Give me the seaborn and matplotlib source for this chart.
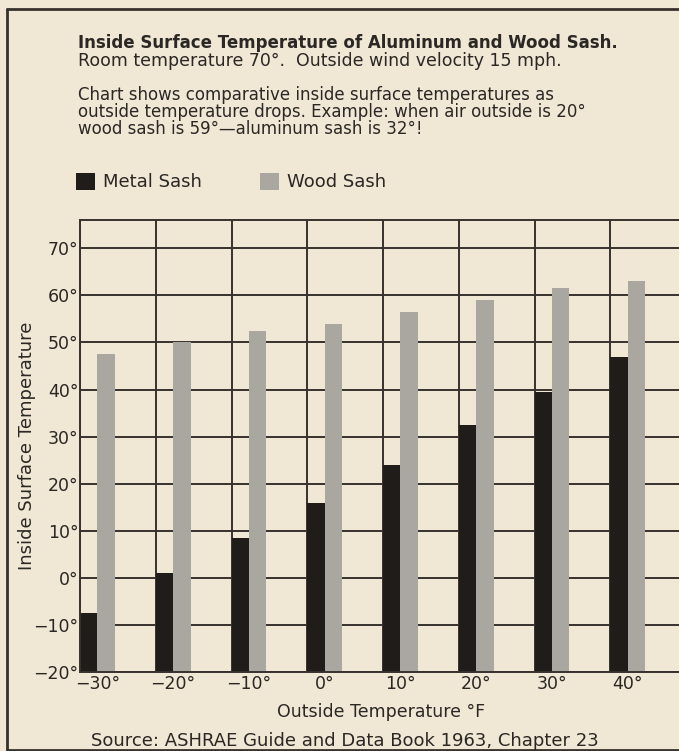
import numpy as np
import pandas as pd
import matplotlib.pyplot as plt
import seaborn as sns
from matplotlib.lines import Line2D

# values (inside surface temperature, °F)
outside_temps = ["−30°", "−20°", "−10°", "0°", "10°", "20°", "30°", "40°"]
metal_sash = [-7.5, 1, 8.5, 16, 24, 32.5, 39.5, 47]
wood_sash = [47.5, 50, 52.5, 54, 56.5, 59, 61.5, 63]
series = ["Metal Sash", "Wood Sash"]
y_ticks = [-20, -10, 0, 10, 20, 30, 40, 50, 60, 70]
y_tick_labels = [f"{v}°".replace("-", "−") for v in y_ticks]

title = "Inside Surface Temperature of Aluminum and Wood Sash."
subtitle = "Room temperature 70°.  Outside wind velocity 15 mph."
notes = [
    "Chart shows comparative inside surface temperatures as",
    "outside temperature drops. Example: when air outside is 20°",
    "wood sash is 59°—aluminum sash is 32°!",
]
source = "Source: ASHRAE Guide and Data Book 1963, Chapter 23"

paper = "#f0e7d4"
ink = "#2a2724"
grid_ink = "#37322e"
metal_color = "#1f1c1a"
wood_color = "#aaa6a0"
bar_width = 0.46

sns.set_style("white", rc={"axes.facecolor": paper, "figure.facecolor": paper})
plt.rcParams["font.family"] = ["DejaVu Sans"]
plt.rcParams["text.color"] = ink
plt.rcParams["axes.labelcolor"] = ink
plt.rcParams["xtick.color"] = ink
plt.rcParams["ytick.color"] = ink

df = pd.DataFrame({
    "outside": outside_temps * 2,
    "temp": metal_sash + wood_sash,
    "sash": [series[0]] * len(metal_sash) + [series[1]] * len(wood_sash),
})

W, H = 679, 751
fig = plt.figure(figsize=(W / 100, H / 100), dpi=100)
ax = fig.add_axes([80 / W, 79 / H, 606 / W, 452 / H])

sns.barplot(data=df, x="outside", y="temp", hue="sash", order=outside_temps,
            hue_order=series, palette=[metal_color, wood_color], width=bar_width,
            saturation=1, errorbar=None, linewidth=0, ax=ax)

# bars in the original rise from the bottom of the scale, not from zero
for bars in ax.containers:
    for bar in bars:
        top = bar.get_y() + bar.get_height()
        bar.set_y(y_ticks[0])
        bar.set_height(top - y_ticks[0])

ax.set_ylim(y_ticks[0], 76)
ax.set_xlim(-bar_width / 2, len(outside_temps) - bar_width / 2)
ax.set_yticks(y_ticks, y_tick_labels)
ax.set_xticks(np.arange(len(outside_temps) + 1) - bar_width / 2, minor=True)

ax.set_axisbelow(True)
ax.yaxis.grid(True, color=grid_ink, lw=1.4)
ax.xaxis.grid(True, which="minor", color=grid_ink, lw=1.4)
ax.xaxis.grid(False, which="major")
ax.tick_params(which="both", length=0)
ax.tick_params(axis="y", labelsize=12.5, pad=1)
ax.tick_params(axis="x", labelsize=12.5, pad=2)
for side in ["left", "top", "bottom"]:
    ax.spines[side].set_color(grid_ink)
    ax.spines[side].set_linewidth(1.4)

ax.set_ylabel("Inside Surface Temperature", fontsize=13)
ax.yaxis.set_label_coords(-0.072, 0.5)
ax.set_xlabel("Outside Temperature °F", fontsize=12.5)
ax.xaxis.set_label_coords(0.497, -0.068)

sns.move_legend(ax, "center left", bbox_to_anchor=(76 / W, 1 - 182 / H),
                bbox_transform=fig.transFigure, ncol=2, title=None, frameon=False,
                fontsize=13, handlelength=1.05, handleheight=1.1, handletextpad=0.45,
                columnspacing=3.2, borderpad=0, borderaxespad=0)

fig.text(78 / W, 1 - 48 / H, title, fontsize=12, fontweight="bold", va="baseline")
fig.text(78 / W, 1 - 66 / H, subtitle, fontsize=12.5, va="baseline")
for i, line in enumerate(notes):
    fig.text(78 / W, 1 - (100 + 17 * i) / H, line, fontsize=12, va="baseline")
fig.text(345 / W, 1 - 746 / H, source, fontsize=13, ha="center", va="baseline")

# frame around the clipping
fig.add_artist(Line2D([7 / W, 7 / W], [0, 1 - 9 / H], transform=fig.transFigure, color=grid_ink, lw=2))
fig.add_artist(Line2D([7 / W, 1], [1 - 9 / H, 1 - 9 / H], transform=fig.transFigure, color=grid_ink, lw=2))
fig.add_artist(Line2D([7 / W, 1], [1 - 749.5 / H, 1 - 749.5 / H], transform=fig.transFigure, color=grid_ink, lw=2))

fig.savefig("out.png", dpi=100)
